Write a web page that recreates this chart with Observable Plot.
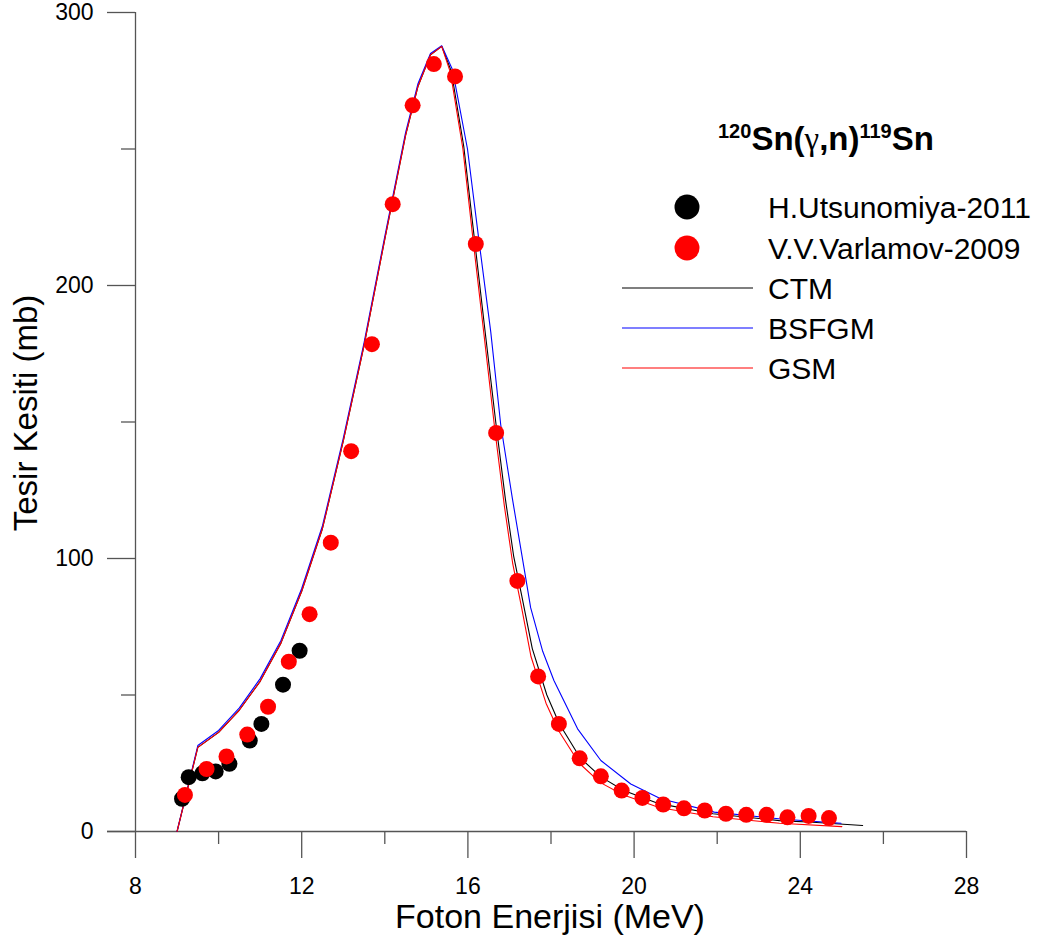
<!DOCTYPE html>
<html>
<head>
<meta charset="utf-8">
<script src="https://cdn.jsdelivr.net/npm/d3@7"></script>
<script src="https://cdn.jsdelivr.net/npm/@observablehq/plot@0.6"></script>
<style>
  html, body { margin: 0; padding: 0; background: #fff; }
  #chart { width: 1043px; height: 942px; }
</style>
</head>
<body>
<div id="chart"></div>
<script>
// ---- Data ----
const chartTitle = ["120", "Sn(", "γ", ",n)", "119", "Sn"];
const xLabel = "Foton Enerjisi (MeV)";
const yLabel = "Tesir Kesiti (mb)";
const xMajorTicks = [8, 12, 16, 20, 24, 28];
const xMinorTicks = [10, 14, 18, 22, 26];
const yMajorTicks = [0, 100, 200, 300];
const yMinorTicks = [50, 150, 250];

const seriesNames = ["H.Utsunomiya-2011", "V.V.Varlamov-2009", "CTM", "BSFGM", "GSM"];

// Experimental data: H.Utsunomiya-2011
const utsE = [9.12, 9.28, 9.61, 9.93, 10.26, 10.75, 11.03, 11.55, 11.95];
const utsS = [12, 19.9, 21.3, 22, 24.8, 33.3, 39.4, 53.8, 66.2];

// Experimental data: V.V.Varlamov-2009
const varE = [9.19, 9.71, 10.19, 10.69, 11.19, 11.69, 12.19, 12.70, 13.19, 13.69, 14.19, 14.67, 15.18, 15.69,
              16.19, 16.68, 17.19, 17.69, 18.19, 18.69, 19.2, 19.70, 20.2, 20.70, 21.2, 21.70, 22.21, 22.70,
              23.19, 23.69, 24.2, 24.69];
const varS = [13.4, 22.9, 27.5, 35.5, 45.7, 62.2, 79.6, 105.8, 139.3, 178.5, 229.8, 266, 281.1, 276.6,
              215.2, 146, 91.8, 56.8, 39.4, 26.8, 20.2, 15, 12.3, 9.9, 8.5, 7.7, 6.5, 6.1,
              6.1, 5.2, 5.7, 4.9];

// Theory: CTM
const ctmE = [9.0, 9.5, 10.0, 10.5, 11.0, 11.5, 12.0, 12.5, 13.0, 13.5, 14.0, 14.5, 14.8, 15.1, 15.37,
              15.6, 15.9, 16.15, 16.4, 16.67, 16.9, 17.1, 17.3, 17.55, 17.9, 18.2, 18.7, 19.2, 19.75,
              20.6, 21.9, 23.5, 24.3, 25.5];
const ctmS = [0, 30.8, 36.3, 44.5, 55, 69, 88, 111, 143, 178, 217, 255, 273, 284.5, 287.6,
              278.5, 251, 218, 185, 150, 122, 101, 86, 67, 50, 39.5, 27, 20, 15,
              10.2, 6.5, 4.0, 3.4, 2.2];

// Theory: BSFGM
const bsfE = [9.0, 9.5, 10.0, 10.5, 11.0, 11.5, 12.0, 12.5, 13.0, 13.5, 14.0, 14.5, 14.8, 15.1, 15.37,
              15.63, 15.99, 16.27, 16.55, 16.79, 17.07, 17.39, 17.51, 17.8, 18.07, 18.64, 19.2, 19.92,
              20.64, 21.93, 23.53, 24.98];
const bsfS = [0, 31.5, 37, 45.3, 56, 70, 89, 112, 144, 179, 218, 256, 274, 285, 287.8,
              279, 250, 216, 183, 149, 122, 93, 82, 66, 55.3, 37.6, 26, 17.4,
              12, 7.1, 4.6, 3];

// Theory: GSM
const gsmE = [9.0, 9.5, 10.0, 10.5, 11.0, 11.5, 12.0, 12.5, 13.0, 13.5, 14.0, 14.5, 14.8, 15.1, 15.37,
              15.58, 15.88, 16.13, 16.38, 16.65, 16.88, 17.08, 17.28, 17.52, 17.88, 18.18, 18.68, 19.18,
              19.73, 20.6, 21.9, 23.5, 25.0];
const gsmS = [0, 30.8, 36.3, 44.5, 55, 69, 88, 111, 143, 178, 217, 255, 273, 284.5, 287.6,
              278, 250, 216, 183, 147, 119, 98, 83, 64, 47, 37, 25, 18,
              13.5, 8.8, 5.4, 3.0, 1.8];

// ---- Build tables ----
const zip = (xs, ys) => xs.map((x, i) => ({x, y: ys[i]}));
const uts = zip(utsE, utsS);
const vv = zip(varE, varS);
const ctm = zip(ctmE, ctmS);
const bsf = zip(bsfE, bsfS);
const gsm = zip(gsmE, gsmS);

const W = 1043, H = 942;
const mL = 135, mR = 77, mT = 12, mB = 111;
const xDom = [8, 28];
const pxPerX = (W - mL - mR) / (xDom[1] - xDom[0]);
const xAxisLeftExt = xDom[0] - 28 / pxPerX; // x-axis line reaches past the y-axis
const axisColor = "#555";
const font = "'Liberation Sans', Arial, sans-serif";
const noLabel = () => "";

const svg = Plot.plot({
  width: W,
  height: H,
  marginLeft: mL,
  marginRight: mR,
  marginTop: mT,
  marginBottom: mB,
  x: {domain: xDom},
  y: {domain: [0, 300]},
  style: {fontFamily: font, fontSize: "23px", color: "#000", background: "#fff", overflow: "visible"},
  marks: [
    Plot.ruleY([0], {x1: xAxisLeftExt, x2: xDom[1], stroke: axisColor, strokeWidth: 1.3}),
    Plot.ruleX([xDom[0]], {y1: 0, y2: 300, stroke: axisColor, strokeWidth: 1.3}),
    Plot.axisX({ticks: xMajorTicks, tickSize: 27, tickFormat: noLabel, stroke: axisColor, strokeWidth: 1.3, label: null}),
    Plot.axisX({ticks: xMinorTicks, tickSize: 13, tickFormat: noLabel, stroke: axisColor, strokeWidth: 1.3, label: null}),
    Plot.axisY({ticks: yMajorTicks, tickSize: 28, tickFormat: noLabel, stroke: axisColor, strokeWidth: 1.3, label: null}),
    Plot.axisY({ticks: yMinorTicks, tickSize: 14, tickFormat: noLabel, stroke: axisColor, strokeWidth: 1.3, label: null}),
    // tick labels
    Plot.text(xMajorTicks, {x: d => d, y: 0, dy: 55, text: d => String(d), fontSize: 23, fill: "#000",
                            textAnchor: "middle", lineAnchor: "middle"}),
    Plot.text(yMajorTicks, {x: xDom[0], y: d => d, dx: -42, text: d => String(d), fontSize: 23, fill: "#000",
                            textAnchor: "end", lineAnchor: "middle"}),
    Plot.line(ctm, {x: "x", y: "y", stroke: "#000", strokeWidth: 1.1}),
    Plot.line(bsf, {x: "x", y: "y", stroke: "#0000ff", strokeWidth: 1.1}),
    Plot.line(gsm, {x: "x", y: "y", stroke: "#ff0000", strokeWidth: 1.1}),
    Plot.dot(uts, {x: "x", y: "y", r: 8, fill: "#000", stroke: "none"}),
    Plot.dot(vv, {x: "x", y: "y", r: 8, fill: "#ff0000", stroke: "none"})
  ]
});

document.getElementById("chart").appendChild(svg);
const s = d3.select(svg);

// ---- Axis titles and in-plot legend ----
s.append("text")
  .attr("x", 550)
  .attr("y", 928)
  .attr("text-anchor", "middle")
  .style("font-family", font).style("font-size", "34px").attr("fill", "#000")
  .text(xLabel);
s.append("text")
  .attr("transform", "translate(37,413) rotate(-90)")
  .attr("text-anchor", "middle")
  .style("font-family", font).style("font-size", "33px").attr("fill", "#000")
  .text(yLabel);

const lg = s.append("g").style("font-family", font).attr("fill", "#000").attr("text-anchor", "start");
const t = lg.append("text").attr("x", 718).attr("y", 150).attr("text-anchor", "start")
  .style("font-size", "33px").style("font-weight", "bold");
t.append("tspan").attr("dy", -12).style("font-size", "20px").text(chartTitle[0]);
t.append("tspan").attr("dy", 12).text(chartTitle[1]);
t.append("tspan").style("font-weight", "normal").style("font-family", "'Liberation Serif', 'DejaVu Serif', serif")
  .text(chartTitle[2]);
t.append("tspan").text(chartTitle[3]);
t.append("tspan").attr("dy", -12).style("font-size", "20px").text(chartTitle[4]);
t.append("tspan").attr("dy", 12).text(chartTitle[5]);

const rows = [
  {name: seriesNames[0], kind: "dot", color: "#000", cy: 207},
  {name: seriesNames[1], kind: "dot", color: "#ff0000", cy: 248},
  {name: seriesNames[2], kind: "line", color: "#000", cy: 288},
  {name: seriesNames[3], kind: "line", color: "#0000ff", cy: 328},
  {name: seriesNames[4], kind: "line", color: "#ff0000", cy: 368}
];
rows.forEach(r => {
  if (r.kind === "dot") {
    lg.append("circle").attr("cx", 687).attr("cy", r.cy).attr("r", 12.5).attr("fill", r.color);
  } else {
    lg.append("line").attr("x1", 622).attr("x2", 753).attr("y1", r.cy).attr("y2", r.cy)
      .attr("stroke", r.color).attr("stroke-width", 1.1);
  }
  lg.append("text").attr("x", 768).attr("y", r.cy + 10.5).attr("text-anchor", "start")
    .style("font-size", "30px").text(r.name);
});
</script>
</body>
</html>
